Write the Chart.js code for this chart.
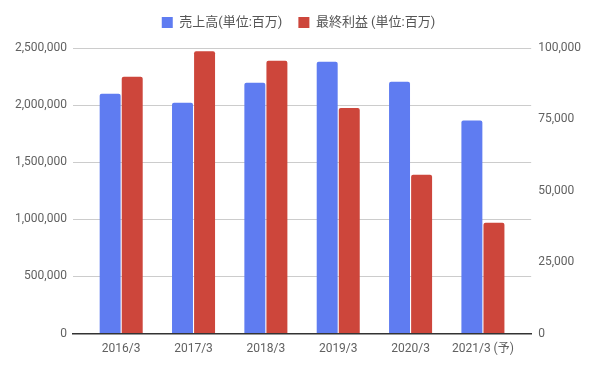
<!DOCTYPE html>
<html>
<head>
<meta charset="utf-8">
<script src="https://cdn.jsdelivr.net/npm/chart.js@4"></script>
<style>
  html, body { margin: 0; padding: 0; background: #fff; }
  #wrap { width: 596px; height: 369px; }
</style>
</head>
<body>
<div id="wrap"><canvas id="chart"></canvas></div>
<script>
const categories = ["2016/3", "2017/3", "2018/3", "2019/3", "2020/3", "2021/3 (予)"];
const salesLabel = "売上高(単位:百万)";
const profitLabel = "最終利益 (単位:百万)";
const sales = [2100000, 2020000, 2195000, 2380000, 2205000, 1865000];
const profit = [89900, 98900, 95500, 79000, 55600, 38800];
const leftTicks = [0, 500000, 1000000, 1500000, 2000000, 2500000];
const rightTicks = [0, 25000, 50000, 75000, 100000];

const fontFamily = "Roboto, 'Noto Sans CJK JP', sans-serif";
const textColor = "#616161";

Chart.defaults.font.family = fontFamily;
Chart.defaults.font.size = 12;
Chart.defaults.color = textColor;

// extra space under the legend
const legendGap = {
  id: "legendGap",
  beforeInit(chart) {
    const fit = chart.legend.fit;
    chart.legend.fit = function () {
      fit.bind(chart.legend)();
      this.height += 9;
    };
  },
};

// categories sit on a numeric x axis so the plot gets a little side margin
const toPoints = (arr) => arr.map((v, i) => ({ x: i, y: v }));

const ctx = document.getElementById("chart").getContext("2d");
new Chart(ctx, {
  type: "bar",
  data: {
    datasets: [
      {
        label: salesLabel,
        data: toPoints(sales),
        backgroundColor: "#5f7cf1",
        yAxisID: "y",
        barPercentage: 0.95,
        categoryPercentage: 0.61,
        borderRadius: { topLeft: 2, topRight: 2 },
        borderSkipped: "bottom",
      },
      {
        label: profitLabel,
        data: toPoints(profit),
        backgroundColor: "#cd463b",
        yAxisID: "y1",
        barPercentage: 0.95,
        categoryPercentage: 0.61,
        borderRadius: { topLeft: 2, topRight: 2 },
        borderSkipped: "bottom",
      },
    ],
  },
  options: {
    responsive: true,
    maintainAspectRatio: false,
    animation: false,
    layout: { padding: { left: 9, right: 8, top: 0, bottom: 13 } },
    plugins: {
      legend: {
        position: "top",
        labels: {
          boxWidth: 11,
          boxHeight: 11,
          padding: 16,
          font: { size: 13 },
          color: "#555",
        },
      },
      tooltip: { enabled: false },
    },
    scales: {
      x: {
        type: "linear",
        offset: false,
        min: -0.667,
        max: categories.length - 1 + 0.667,
        afterBuildTicks: (axis) => {
          axis.ticks = categories.map((c, i) => ({ value: i }));
        },
        grid: { display: false },
        border: { color: "#333", width: 1.5 },
        ticks: {
          padding: 0,
          maxRotation: 0,
          autoSkip: false,
          font: { size: 12 },
          callback: (v) => categories[v],
        },
      },
      y: {
        position: "left",
        min: 0,
        max: 2500000,
        afterBuildTicks: (axis) => {
          axis.ticks = leftTicks.map((v) => ({ value: v }));
        },
        grid: {
          color: (c) => (c.tick && c.tick.value === 0 ? "rgba(0,0,0,0)" : "#cccccc"),
          drawTicks: false,
        },
        border: { display: false },
        ticks: {
          padding: 6,
          callback: (v) => v.toLocaleString("en-US"),
        },
      },
      y1: {
        position: "right",
        min: 0,
        max: 100000,
        afterBuildTicks: (axis) => {
          axis.ticks = rightTicks.map((v) => ({ value: v }));
        },
        grid: { drawOnChartArea: false, drawTicks: false },
        border: { display: false },
        ticks: {
          padding: 7,
          callback: (v) => v.toLocaleString("en-US"),
        },
      },
    },
  },
  plugins: [legendGap],
});
</script>
</body>
</html>
